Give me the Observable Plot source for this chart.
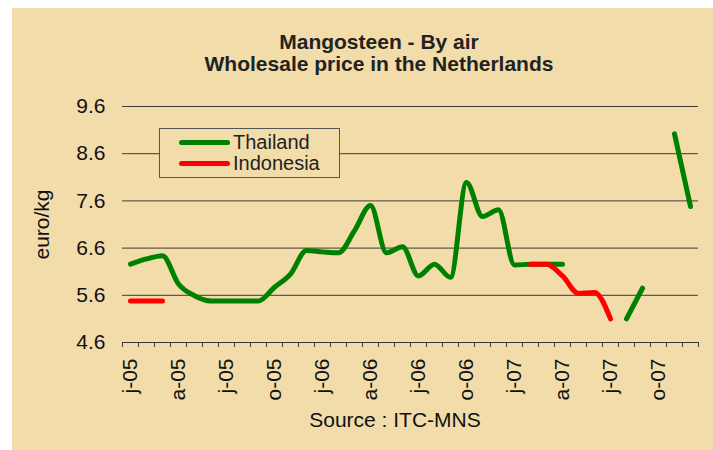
<!DOCTYPE html>
<html><head><meta charset="utf-8">
<script src="https://cdn.jsdelivr.net/npm/d3@7"></script>
<script src="https://cdn.jsdelivr.net/npm/@observablehq/plot@0.6"></script>
<style>
body{margin:0;background:#fff;font-family:"Liberation Sans",Arial,sans-serif;}
#wrap{position:relative;width:713px;height:450px;overflow:hidden;}
#bg{position:absolute;left:12px;top:8px;right:0;bottom:0;background:#F2DCAA;}
#title{position:absolute;left:0;width:758px;top:31px;text-align:center;font-weight:bold;font-size:21px;line-height:22px;color:#222;}
#chart{position:absolute;left:0;top:90px;}
#source{position:absolute;left:0;width:790px;top:409px;text-align:center;font-size:21px;line-height:22px;color:#111;}
#legend{position:absolute;left:159px;top:128px;width:179px;height:48px;border:1px solid #555;background:#F2DCAA;}
.row{position:absolute;left:0;height:21px;width:100%;}
.sw{position:absolute;left:19px;top:8px;width:51px;height:5px;border-radius:3px;}
.lt{position:absolute;left:73px;top:0px;font-size:20px;line-height:21px;color:#222;}
</style>
</head><body>
<div id="wrap">
  <div id="bg"></div>
  <div id="title">Mangosteen - By air<br>Wholesale price in the Netherlands</div>
  <div id="chart"></div>
  <div id="legend"></div>
  <div id="source">Source : ITC-MNS</div>
</div>
<script>
// Monthly, Jan 2005 .. Dec 2007 (36 months)
const months = ["Jan-05","Feb-05","Mar-05","Apr-05","May-05","Jun-05","Jul-05","Aug-05","Sep-05","Oct-05","Nov-05","Dec-05",
  "Jan-06","Feb-06","Mar-06","Apr-06","May-06","Jun-06","Jul-06","Aug-06","Sep-06","Oct-06","Nov-06","Dec-06",
  "Jan-07","Feb-07","Mar-07","Apr-07","May-07","Jun-07","Jul-07","Aug-07","Sep-07","Oct-07","Nov-07","Dec-07"];
const thailand = [6.26,6.37,6.44,5.84,5.59,5.48,5.48,5.48,5.48,5.77,6.05,6.55,
  6.52,6.50,6.97,7.50,6.50,6.63,6.01,6.26,5.98,7.99,7.27,7.41,
  6.24,6.26,6.26,6.26,null,null,null,5.10,5.75,null,9.02,7.48];
const indonesia = [5.48,5.48,5.48,null,null,null,null,null,null,null,null,null,
  null,null,null,null,null,null,null,null,null,null,null,null,
  null,6.26,6.26,6.01,5.64,5.66,5.10,null,null,null,null,null];
const tickLabels = ["j-05","a-05","j-05","o-05","j-06","a-06","j-06","o-06","j-07","a-07","j-07","o-07"];
const yTicks = [4.6,5.6,6.6,7.6,8.6,9.6];
const seriesNames = ["Thailand","Indonesia"];
const seriesColors = ["#008000","#FF0000"];

const rows = [];
[thailand, indonesia].forEach((arr, s) => arr.forEach((v, i) => rows.push({series: seriesNames[s], i, month: months[i], v})));

const boundaries = d3.range(0, months.length + 1).map(d => d - 0.5);
const labelPos = tickLabels.map((_, k) => k * 3);

const chart = Plot.plot({
  width: 713, height: 320,
  marginLeft: 122, marginRight: 15, marginTop: 16, marginBottom: 68,
  style: {background: "transparent", fontSize: "21px", fontFamily: "'Liberation Sans', Arial, sans-serif", color: "#111", overflow: "visible"},
  x: {type: "linear", domain: [-0.5, months.length - 0.5]},
  y: {domain: [4.6, 9.6]},
  color: {domain: seriesNames, range: seriesColors},
  marks: [
    Plot.gridY(yTicks, {stroke: "#3a3a3a", strokeOpacity: 1, strokeWidth: 1}),
    Plot.axisY(yTicks, {tickSize: 0, tickPadding: 17, tickFormat: d => d.toFixed(1), label: "euro/kg", labelAnchor: "center", labelArrow: false, labelOffset: 88}),
    Plot.axisX(boundaries, {tickSize: 5, tickFormat: () => "", stroke: "#3a3a3a", label: null}),
    Plot.axisX(labelPos, {tickSize: 0, tickRotate: -90, tickPadding: 16, tickFormat: d => tickLabels[d / 3], label: null}),
    Plot.line(rows.filter(d => d.series === "Thailand"), {x: "i", y: "v", stroke: "series", strokeWidth: 5, curve: "monotone-x", strokeLinecap: "round", strokeLinejoin: "round"}),
    Plot.line(rows.filter(d => d.series === "Indonesia"), {x: "i", y: "v", stroke: "series", strokeWidth: 5, curve: "monotone-x", strokeLinecap: "round", strokeLinejoin: "round"})
  ]
});
document.getElementById("chart").appendChild(chart);

const legend = document.getElementById("legend");
seriesNames.forEach((name, k) => {
  const row = document.createElement("div");
  row.className = "row";
  row.style.top = (3 + k * 21) + "px";
  row.innerHTML = `<div class="sw" style="background:${seriesColors[k]}"></div><div class="lt">${name}</div>`;
  legend.appendChild(row);
});
</script>
</body></html>
